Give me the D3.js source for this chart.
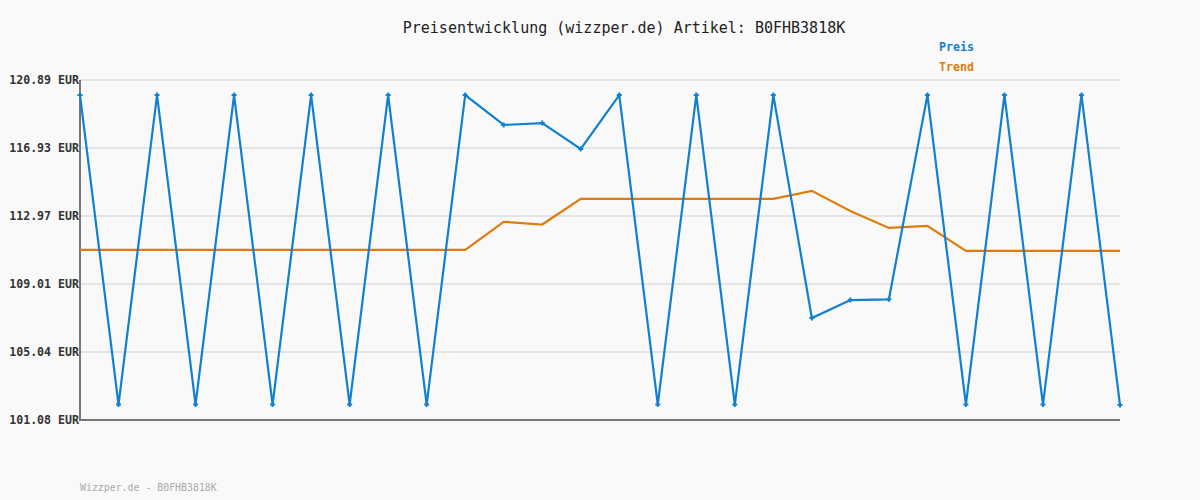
<!DOCTYPE html>
<html><head><meta charset="utf-8">
<script src="https://cdn.jsdelivr.net/npm/d3@7"></script>
<style>html,body{margin:0;padding:0;background:#f9f9f9;}svg{display:block;}</style>
</head><body>
<script>
const title = "Preisentwicklung (wizzper.de) Artikel: B0FHB3818K";
const footer = "Wizzper.de - B0FHB3818K";
const tickValues = [101.08, 105.04, 109.01, 112.97, 116.93, 120.89];
const tickLabels = ["101.08 EUR","105.04 EUR","109.01 EUR","112.97 EUR","116.93 EUR","120.89 EUR"];
const legendLabels = ["Preis","Trend"];
const preis = [120.01,101.98,120.01,101.98,120.01,101.98,120.01,101.98,120.01,101.98,120.01,118.27,118.38,116.87,120.01,101.98,120.01,101.98,120.01,107.02,108.07,108.11,120.01,101.98,120.01,101.98,120.01,101.95];
const trend = [110.99,110.99,110.99,110.99,110.99,110.99,110.99,110.99,110.99,110.99,110.99,112.63,112.47,113.96,113.96,113.96,113.96,113.96,113.96,114.43,113.26,112.27,112.39,110.93,110.93,110.93,110.93,110.93];

const W=1200,H=500, L=80, R=1120, T=80, B=420;
const blue="#1180d0", orange="#e07b0c";
const svg=d3.select("body").append("svg").attr("width",W).attr("height",H);
svg.append("rect").attr("width",W).attr("height",H).attr("fill","#f9f9f9");
const x=d3.scaleLinear().domain([0,preis.length-1]).range([L,R]);
const y=d3.scaleLinear().domain([101.08,120.89]).range([B,T]);
const font="'DejaVu Sans Mono', monospace";

// grid
svg.append("g").selectAll("line").data(tickValues).join("line")
  .attr("x1",L).attr("x2",R).attr("y1",d=>y(d)).attr("y2",d=>y(d))
  .attr("stroke","#e4e4e4").attr("stroke-width",2);

// y axis
const yAxis=d3.axisLeft(y).tickValues(tickValues).tickFormat((d,i)=>tickLabels[i]).tickSize(0).tickPadding(1);
const gy=svg.append("g").attr("transform",`translate(${L},0)`).call(yAxis);
gy.select(".domain").remove();
gy.selectAll("text").attr("font-family",font).attr("font-size","11.6px").attr("font-weight","bold").attr("fill","#333");

// axis lines
svg.append("line").attr("x1",L).attr("x2",L).attr("y1",T).attr("y2",B+1).attr("stroke","#777").attr("stroke-width",2);
svg.append("line").attr("x1",L).attr("x2",R).attr("y1",B).attr("y2",B).attr("stroke","#777").attr("stroke-width",2);

// trend line
const line=d3.line().x((d,i)=>x(i)).y(d=>y(d));
svg.append("path").datum(trend).attr("d",line).attr("fill","none").attr("stroke",orange).attr("stroke-width",2.2);
// preis line
svg.append("path").datum(preis).attr("d",line).attr("fill","none").attr("stroke",blue).attr("stroke-width",2.2);
// markers
const m=svg.append("g");
preis.forEach((d,i)=>{
  const cx=x(i), cy=y(d);
  m.append("path").attr("d",`M${cx-2.5},${cy}H${cx+2.5}M${cx},${cy-2.5}V${cy+2.5}`).attr("stroke",blue).attr("stroke-width",2);
});

// title
svg.append("text").attr("x",624).attr("y",33).attr("text-anchor","middle").attr("font-family",font).attr("font-size","15px").attr("fill","#222").text(title);
// legend
svg.append("text").attr("x",939).attr("y",51).attr("font-family",font).attr("font-size","11.6px").attr("font-weight","bold").attr("fill",blue).text(legendLabels[0]);
svg.append("text").attr("x",939).attr("y",71).attr("font-family",font).attr("font-size","11.6px").attr("font-weight","bold").attr("fill",orange).text(legendLabels[1]);
// footer
svg.append("text").attr("x",80).attr("y",491).attr("font-family",font).attr("font-size","9.9px").attr("fill","#aaa").text(footer);
</script>
</body></html>
